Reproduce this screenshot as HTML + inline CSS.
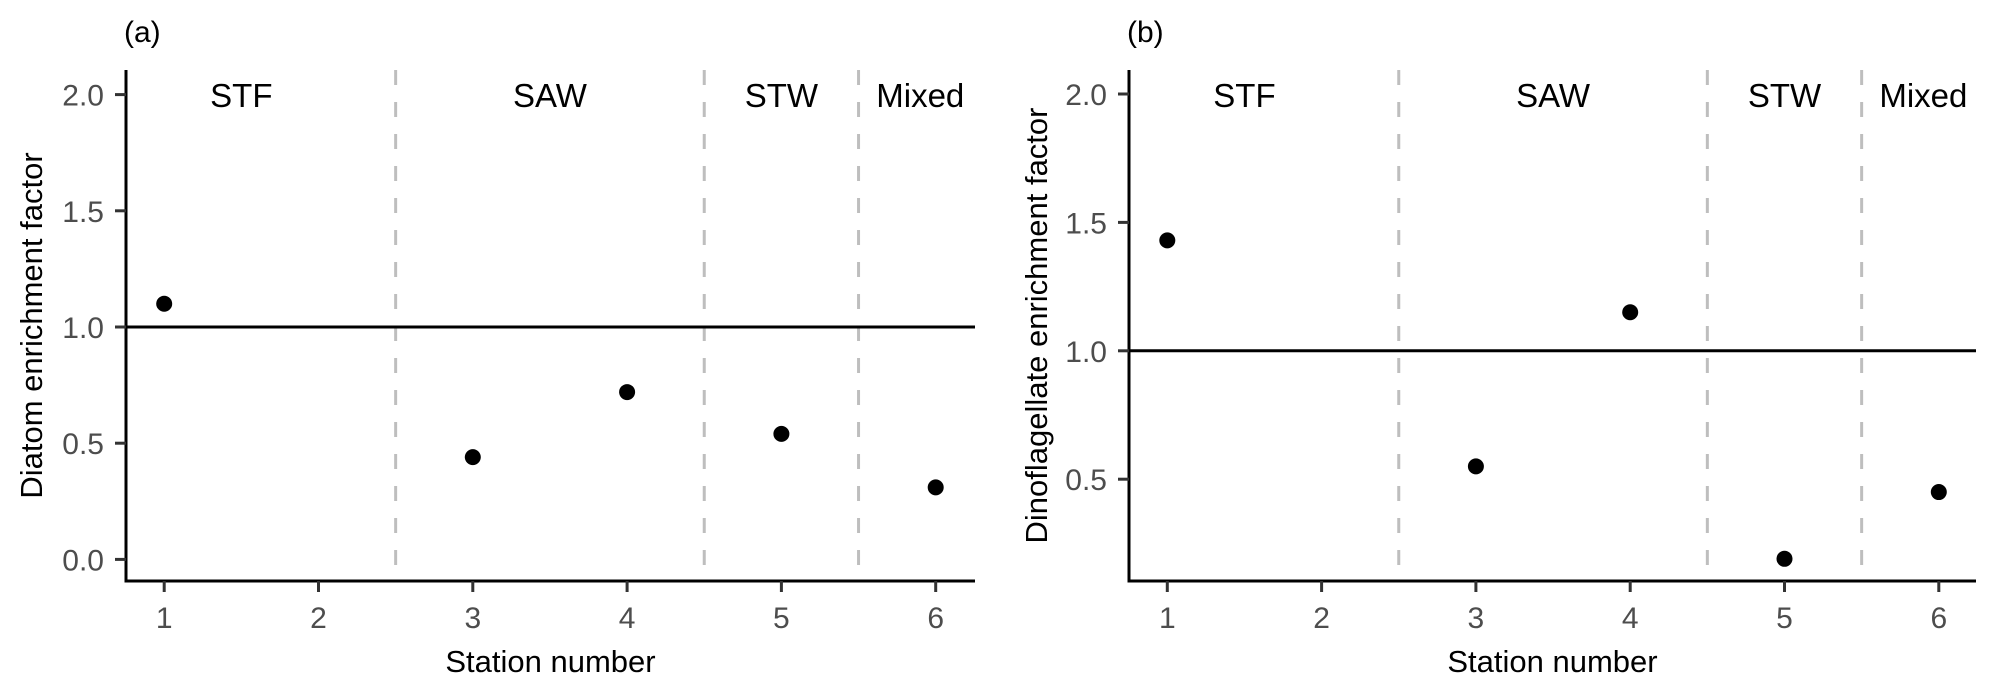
<!DOCTYPE html>
<html><head><meta charset="utf-8"><style>
body{margin:0;background:#fff}
svg{display:block;font-family:"Liberation Sans",Arial,sans-serif}
</style></head><body>
<svg id="chart" width="1996" height="690" viewBox="0 0 1996 690" xmlns="http://www.w3.org/2000/svg"></svg>
<script>
const stations = [1, 3, 4, 5, 6];
const diatomValues = [1.10, 0.44, 0.72, 0.54, 0.31];
const dinoValues = [1.43, 0.55, 1.15, 0.19, 0.45];
const xTicks = [1, 2, 3, 4, 5, 6];
const yTicksA = [0.0, 0.5, 1.0, 1.5, 2.0];
const yTicksB = [0.5, 1.0, 1.5, 2.0];
const boundaries = [2.5, 4.5, 5.5];
const regionNames = ["STF", "SAW", "STW", "Mixed"];
const regionCenters = [1.5, 3.5, 5.0, 5.9];

const svg = document.getElementById('chart');
const NS = 'http://www.w3.org/2000/svg';
function mk(tag, attrs, parent) {
  const e = document.createElementNS(NS, tag);
  for (const k in attrs) e.setAttribute(k, attrs[k]);
  (parent || svg).appendChild(e);
  return e;
}

function panel(cfg) {
  const g = mk('g', {});
  
  
  const xs = v => cfg.x1 + (v - 1) * cfg.xu;
  const ys = v => cfg.y1 - (v - 1) * cfg.yu;
  const top = 70, bottom = 581, left = cfg.axisX, right = cfg.right;
  boundaries.forEach(b => {
    const l = mk('line', {x1: xs(b), x2: xs(b), y1: top, y2: bottom, stroke: '#bebebe', 'stroke-width': 3, 'stroke-dasharray': '15 17'}, g);
    
    
  });
  const ref = mk('line', {x1: left, x2: right, y1: ys(1), y2: ys(1), stroke: '#000', 'stroke-width': 3}, g);
  
  
  regionNames.forEach((n, i) => {
    const t = mk('text', {x: xs(regionCenters[i]), y: 107, 'font-size': 33, 'text-anchor': 'middle', fill: '#000'}, g);
    t.textContent = n;
    
    
  });
  const ya = mk('line', {x1: left, x2: left, y1: top, y2: bottom + 1.5, stroke: '#000', 'stroke-width': 3}, g);
  
  
  const xa = mk('line', {x1: left - 1.5, x2: right, y1: bottom, y2: bottom, stroke: '#000', 'stroke-width': 3}, g);
  
  
  cfg.yTicks.forEach(v => {
    mk('line', {x1: left - 11, x2: left, y1: ys(v), y2: ys(v), stroke: '#333', 'stroke-width': 3}, g);
    const t = mk('text', {x: left - 22, y: ys(v) + 11, 'font-size': 30, 'text-anchor': 'end', fill: '#4d4d4d'}, g);
    t.textContent = v.toFixed(1);
    
    
  });
  xTicks.forEach(v => {
    mk('line', {x1: xs(v), x2: xs(v), y1: bottom, y2: bottom + 11, stroke: '#333', 'stroke-width': 3}, g);
    const t = mk('text', {x: xs(v), y: 628, 'font-size': 30, 'text-anchor': 'middle', fill: '#4d4d4d'}, g);
    t.textContent = v;
    
    
  });
  cfg.values.forEach((v, i) => {
    const c = mk('circle', {cx: xs(stations[i]), cy: ys(v), r: 8, fill: '#000'}, g);
    
    
  });
  const xt = mk('text', {x: (left + right) / 2, y: 672, 'font-size': 31, 'text-anchor': 'middle', fill: '#000'}, g);
  xt.textContent = 'Station number';
  
  
  const yt = mk('text', {x: 0, y: 0, 'font-size': 31, 'text-anchor': 'middle', fill: '#000', transform: 'translate(' + cfg.titleX + ',' + ((top + bottom) / 2) + ') rotate(-90)'}, g);
  yt.textContent = cfg.yTitle;
  
  
  const pl = mk('text', {x: cfg.labelX, y: 42, 'font-size': 30, fill: '#000'}, g);
  pl.textContent = cfg.label;
  
  
}

panel({name: 'panel-a-diatom', axisX: 126, right: 975, x1: 164.2, xu: 154.3, y1: 327, yu: 232.4,
  yTicks: yTicksA, values: diatomValues, yTitle: 'Diatom enrichment factor', titleX: 42, label: '(a)', labelX: 124});
panel({name: 'panel-b-dinoflagellate', axisX: 1129, right: 1976, x1: 1167.3, xu: 154.3, y1: 350.8, yu: 256.8,
  yTicks: yTicksB, values: dinoValues, yTitle: 'Dinoflagellate enrichment factor', titleX: 1047, label: '(b)', labelX: 1127});
</script>
</body></html>
